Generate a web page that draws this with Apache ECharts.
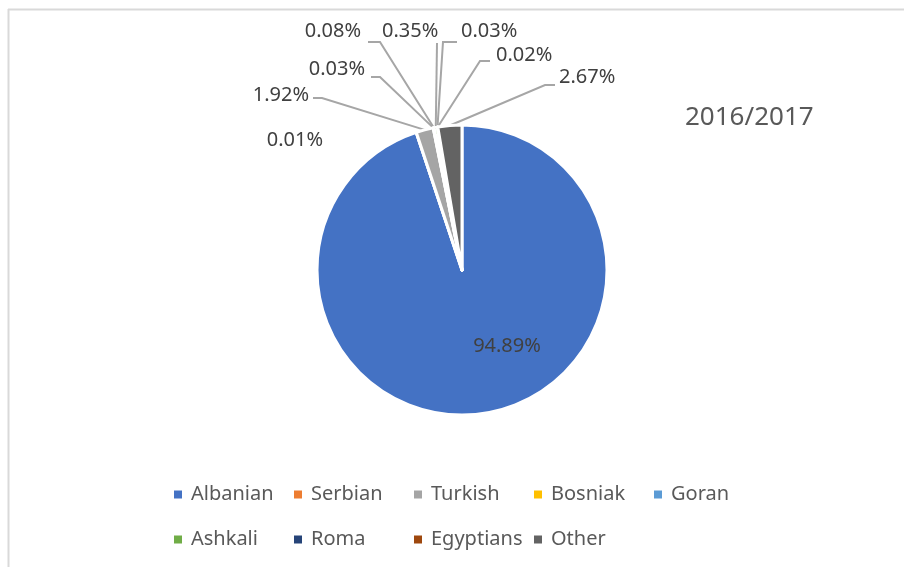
<!DOCTYPE html>
<html>
<head>
<meta charset="utf-8">
<title>2016/2017</title>
<script src="https://cdn.jsdelivr.net/npm/echarts@6/dist/echarts.min.js"></script>
<style>
	html,body{margin:0;padding:0;background:#fff;}
	#main{width:904px;height:567px;}
</style>
</head>
<body>
<div id="main"></div>
<script>
/************
 * 2016/2017 pie
 * data first, then option
 * ************/
var categories = ["Albanian","Serbian","Turkish","Bosniak","Goran","Ashkali","Roma","Egyptians","Other"];
var shares     = [94.89, 0.01, 1.92, 0.03, 0.08, 0.35, 0.03, 0.02, 2.67];
var colors     = ["#4472C4","#ED7D31","#A5A5A5","#FFC000","#5B9BD5","#70AD47","#264478","#9E480E","#636363"];
var titleText  = "2016/2017";

// where each label sits: [x, y, align]
var labelSpot = [
	[507, 346, "center"],
	[323, 140, "right"],
	[309, 95,  "right"],
	[365, 69,  "right"],
	[361, 31,  "right"],
	[382, 31,  "left"],
	[461, 31,  "left"],
	[496, 55,  "left"],
	[559, 77,  "left"]
];
// leader line: start at the label, short elbow, then to the slice
var lineStart = [null, null, [313,98], [371,77], [368,42], [437,43], [457,42], [490,61], [555,85]];
var lineElbow = [null, null, [322,98], [380,77], [380,42], [437,43], [443,42], [480,61], [545,85]];

var FONT = "Noto Sans";

var pieData = [];
for (var i = 0; i < categories.length; i++) {
	var d = {name: categories[i], value: shares[i], itemStyle: {color: colors[i]}};
	if (lineStart[i] == null) d.labelLine = {show: false};
	pieData.push(d);
}

var option = {
	backgroundColor: "#fff",
	animation: false,
	title: {
		text: titleText,
		left: 680, top: 100,
		textStyle: {fontFamily: FONT, fontSize: 26, fontWeight: "normal", color: "#595959"}
	},
	legend: {
		data: categories,
		left: 169, top: 472,
		width: 600,
		orient: "horizontal",
		icon: "rect",
		itemWidth: 8, itemHeight: 8,
		itemGap: 10,
		itemStyle: {borderWidth: 0},
		textStyle: {fontFamily: FONT, fontSize: 20, color: "#595959", width: 93, lineHeight: 35, padding: [0,0,0,4]}
	},
	graphic: [
		{type: "line", shape: {x1: 8, y1: 9.5, x2: 904, y2: 9.5}, style: {stroke: "#D9D9D9", lineWidth: 2}},
		{type: "line", shape: {x1: 8.5, y1: 9, x2: 8.5, y2: 567}, style: {stroke: "#D9D9D9", lineWidth: 2}}
	],
	series: [{
		type: "pie",
		center: [462, 270],
		radius: 145,
		startAngle: 90,
		clockwise: true,
		avoidLabelOverlap: false,
		itemStyle: {borderColor: "#fff", borderWidth: 3},
		label: {
			show: true,
			position: "outside",
			fontFamily: FONT, fontSize: 20, color: "#404040",
			formatter: function(p){ return p.value.toFixed(2) + "%"; }
		},
		labelLine: {show: true, length: 10, length2: 10, lineStyle: {color: "#A6A6A6", width: 2}},
		labelLayout: function(p){
			var i = p.dataIndex, s = labelSpot[i];
			var r = {x: s[0], y: s[1], align: s[2], verticalAlign: "middle"};
			if (lineStart[i] != null && p.labelLinePoints) {
				r.labelLinePoints = [p.labelLinePoints[0], lineElbow[i], lineStart[i]];
			}
			return r;
		},
		data: pieData
	}]
};

var chart = echarts.init(document.getElementById("main"));
chart.setOption(option);
</script>
</body>
</html>
